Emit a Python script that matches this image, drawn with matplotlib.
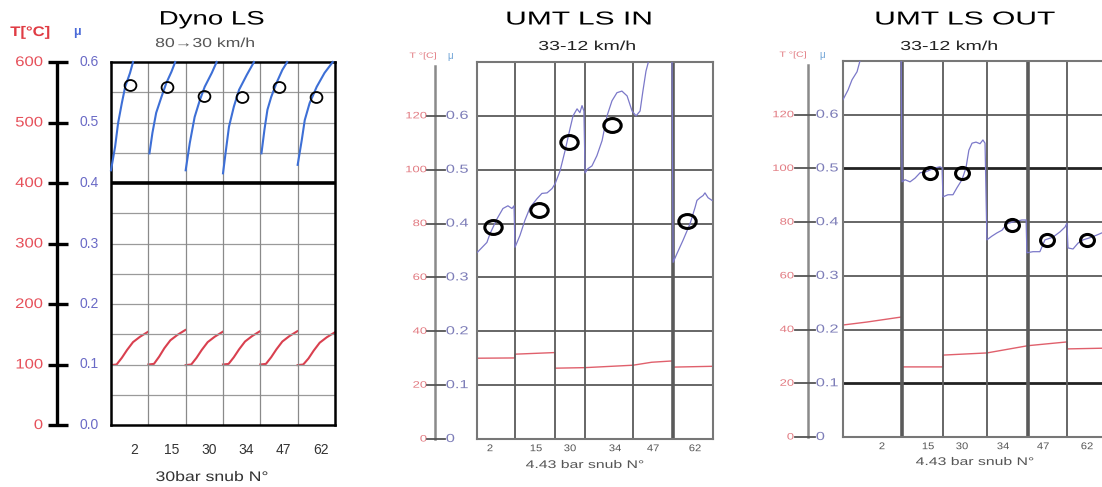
import numpy as np
import matplotlib
matplotlib.use("Agg")
import matplotlib.pyplot as plt
from matplotlib import transforms, patheffects
from matplotlib.path import Path
from matplotlib.transforms import Affine2D

plt.rcParams['font.family'] = ['Liberation Sans', 'DejaVu Sans']

# ---------------------------------------------------------------- data
snub_labels = ["2", "15", "30", "34", "47", "62"]

# Dyno LS, 80->30 km/h, 30 bar snubs: one column per snub
dyno_mu_pos = [  # position inside each snub column (0..1)
    [0.00, 0.11, 0.19, 0.29, 0.38, 0.51, 0.59],
    [0.03, 0.11, 0.21, 0.35, 0.48, 0.62, 0.72],
    [0.00, 0.11, 0.24, 0.38, 0.51, 0.70, 0.83],
    [0.00, 0.08, 0.16, 0.29, 0.43, 0.64, 0.83],
    [0.03, 0.11, 0.19, 0.29, 0.43, 0.59, 0.72],
    [0.00, 0.11, 0.19, 0.32, 0.51, 0.72, 0.94],
]
dyno_mu = [
    [0.421, 0.460, 0.499, 0.532, 0.559, 0.582, 0.600],
    [0.449, 0.483, 0.516, 0.542, 0.565, 0.584, 0.600],
    [0.421, 0.466, 0.509, 0.537, 0.559, 0.582, 0.600],
    [0.416, 0.455, 0.493, 0.526, 0.554, 0.579, 0.600],
    [0.449, 0.488, 0.521, 0.542, 0.565, 0.587, 0.600],
    [0.430, 0.471, 0.504, 0.532, 0.559, 0.582, 0.600],
]
dyno_T_pos = [0.00, 0.15, 0.29, 0.43, 0.59, 0.78, 0.99]
dyno_T = [
    [99, 100, 111, 124, 137, 146, 154],
    [100, 101, 113, 127, 140, 149, 157],
    [99, 100, 111, 124, 137, 146, 154],
    [100, 101, 112, 125, 138, 147, 155],
    [100, 101, 112, 125, 138, 147, 155],
    [99, 100, 110, 123, 136, 145, 153],
]
dyno_mu_marked = [0.562, 0.559, 0.544, 0.542, 0.559, 0.542]
dyno_T_ticks = [0, 100, 200, 300, 400, 500, 600]
dyno_mu_ticks = [0.0, 0.1, 0.2, 0.3, 0.4, 0.5, 0.6]

# UMT LS IN, 33-12 km/h, 4.43 bar snubs: test progress (%) on x
in_snub_ends = [16.1, 33.1, 45.8, 66.1, 83.1]
in_label_at = [5.5, 25.0, 39.4, 58.5, 74.6, 92.4]
in_t = [0.0, 4.2, 5.5, 8.5, 11.0, 13.1, 14.8, 15.7,
        16.1, 18.2, 20.3, 22.5, 25.4, 27.5, 29.7, 31.8, 33.1, 35.2, 37.3,
        39.4, 40.7, 42.4, 43.6, 44.5, 45.3,
        45.8, 47.0, 48.7, 50.8, 53.0, 55.1, 57.2, 59.3, 61.4, 63.6, 65.7,
        67.4, 69.1, 70.3, 71.6, 72.5, 74.2, 82.6,
        83.1, 84.7, 87.3, 90.3, 92.4, 93.2, 94.5, 95.8, 96.6, 97.9, 99.6]
in_mu = [0.346, 0.365, 0.381, 0.409, 0.428, 0.433, 0.428, 0.433,
         0.356, 0.378, 0.406, 0.430, 0.446, 0.456, 0.457, 0.465, 0.474, 0.498, 0.535,
         0.576, 0.600, 0.613, 0.606, 0.619, 0.609,
         0.494, 0.502, 0.507, 0.526, 0.554, 0.600, 0.628, 0.643, 0.646, 0.637, 0.609,
         0.600, 0.609, 0.646, 0.683, 0.698, 0.740, 0.740,
         0.328, 0.344, 0.369, 0.400, 0.430, 0.443, 0.448, 0.452, 0.457, 0.448, 0.443]
in_T_t = [0.0, 16.0, 16.1, 33.0, 33.1, 45.8, 66.1, 74.0, 83.0, 83.1, 100.0]
in_T = [30.0, 30.1, 31.5, 32.1, 26.3, 26.5, 27.4, 28.5, 29.0, 26.7, 27.0]
in_mark_t = [6.8, 26.3, 39.0, 57.2, 89.0]
in_mark_mu = [0.394, 0.426, 0.552, 0.583, 0.404]

# UMT LS OUT, 33-12 km/h, 4.43 bar snubs
out_snub_ends = [22.3, 37.7, 54.3, 69.8, 84.5]
out_label_at = [14.7, 32.1, 44.9, 60.4, 75.5, 92.1]
out_t = [0.0, 1.9, 3.4, 5.3, 6.4, 7.9, 21.9,
         22.3, 23.4, 25.3, 27.2, 29.1, 30.9, 32.8, 34.7, 36.6, 37.4,
         37.7, 39.6, 41.5, 43.0, 44.9, 46.4, 47.5, 48.7, 50.2, 51.7, 52.8, 53.6,
         54.3, 56.2, 58.1, 60.0, 61.9, 63.8, 65.7, 67.5, 69.1,
         69.4, 71.7, 74.3, 76.2, 79.2, 81.9, 83.8, 84.5,
         84.9, 86.8, 88.7, 90.6, 93.2, 95.8, 97.7]
out_mu = [0.628, 0.646, 0.665, 0.680, 0.700, 0.740, 0.740,
          0.475, 0.479, 0.475, 0.482, 0.492, 0.493, 0.497, 0.501, 0.503, 0.501,
          0.447, 0.451, 0.451, 0.464, 0.479, 0.501, 0.534, 0.547, 0.549, 0.546, 0.553, 0.547,
          0.367, 0.374, 0.380, 0.385, 0.397, 0.400, 0.402, 0.404, 0.404,
          0.343, 0.345, 0.345, 0.367, 0.372, 0.382, 0.391, 0.398,
          0.352, 0.350, 0.361, 0.367, 0.371, 0.376, 0.380]
out_T_t = [0.0, 9.0, 22.2, 22.3, 37.7, 37.8, 54.3, 69.8, 84.5, 84.6, 100.0]
out_T = [41.7, 42.8, 44.7, 26.1, 26.1, 30.5, 31.3, 34.0, 35.4, 32.8, 33.1]
out_mark_t = [32.8, 44.9, 63.8, 77.0, 92.1]
out_mark_mu = [0.492, 0.492, 0.395, 0.367, 0.367]

umt_T_ticks = [0, 20, 40, 60, 80, 100, 120]
umt_mu_ticks = [0.0, 0.1, 0.2, 0.3, 0.4, 0.5, 0.6]

# ---------------------------------------------------------------- figure
W, H = 1102, 487
fig = plt.figure(figsize=(W / 100, H / 100), dpi=100)
fig.patch.set_facecolor('white')


class Widen(patheffects.AbstractPathEffect):
    """Draw text glyphs stretched horizontally about a chosen anchor."""

    def __init__(self, sx, anchor='center'):
        super().__init__()
        self._sx = sx
        self._anchor = anchor

    def draw_path(self, renderer, gc, tpath, affine, rgbFace=None):
        ext = tpath.get_extents()
        cx = {'left': ext.x0, 'right': ext.x1}.get(self._anchor, 0.5 * (ext.x0 + ext.x1))
        stretch = Affine2D().translate(-cx, 0).scale(self._sx, 1).translate(cx, 0)
        renderer.draw_path(gc, tpath, stretch + affine, rgbFace)


def wide(sx, anchor='center'):
    return [Widen(sx, anchor)]


def box(l, t, r, b):
    return [l / W, (H - b) / H, (r - l) / W, (b - t) / H]


def fx(x):
    return x / W


def fy(y):
    return 1 - y / H


def ellipse(stretch):
    return Path.unit_circle().transformed(Affine2D().scale(stretch, 1.0))


RED1, BLUE1 = '#e6505a', '#6a6ac6'
RED2, BLUE2 = '#e27b82', '#7d7db8'

# ================================================================ Dyno LS
ax1 = fig.add_axes(box(111, 62, 335, 425))
ax1T = ax1.twinx()
ax1.set_xlim(0, 6)
ax1.set_ylim(0, 0.6)
ax1T.set_ylim(0, 600)
ax1T.set_axis_off()
ax1.set_zorder(2)
ax1.patch.set_visible(False)
ax1T.set_zorder(1)

for v in np.arange(0.05, 0.6, 0.05):
    if abs(v - 0.4) < 1e-6:
        ax1.axhline(v, color='black', lw=2.6, zorder=2)
    else:
        ax1.axhline(v, color='#9a9a9a', lw=0.9, zorder=1)
for b in range(1, 6):
    ax1.axvline(b, color='#8a8a8a', lw=0.9, zorder=1)
for s in ax1.spines.values():
    s.set_color('black')
    s.set_linewidth(1.8)
ax1.set_yticks([])
ax1.set_xticks(np.arange(6) + 0.62, snub_labels)
ax1.tick_params(axis='x', length=0, pad=13, labelsize=10, labelcolor='#333333')

for i in range(6):
    ax1.plot(i + np.array(dyno_mu_pos[i]), dyno_mu[i], color='#3d6fd6', lw=1.5,
             zorder=3, clip_on=False)
    ax1T.plot(i + np.array(dyno_T_pos), dyno_T[i], color='#d9404f', lw=1.5)
ax1.plot(np.arange(6) + 0.5, dyno_mu_marked, linestyle='none', marker=ellipse(1.08),
         markersize=8.5, mfc='none', mec='black', mew=1.3, zorder=4)

# stand-alone temperature / friction scale
tr_mu = transforms.blended_transform_factory(fig.transFigure, ax1.transData)
tr_T = transforms.blended_transform_factory(fig.transFigure, ax1T.transData)
ax1.plot([fx(57), fx(57)], [0, 0.6], transform=tr_mu, clip_on=False,
         color='black', lw=2.4, solid_capstyle='butt')
for T, m in zip(dyno_T_ticks, dyno_mu_ticks):
    ax1.plot([fx(48), fx(68)], [m, m], transform=tr_mu, clip_on=False,
             color='black', lw=2.4, solid_capstyle='butt')
    ax1T.text(fx(43), T, str(T), transform=tr_T, ha='right', va='center',
              fontsize=10, color=RED1, path_effects=wide(1.2, 'right'))
    ax1.text(fx(80), m, f"{m:.1f}", transform=tr_mu, ha='left', va='center',
             fontsize=10, color=BLUE1)

fig.text(fx(30), fy(32), "T[°C]", ha='center', va='center', fontsize=10,
         fontweight='bold', color='#e03c44', path_effects=wide(1.2))
fig.text(fx(77), fy(32), "μ", ha='center', va='center', fontsize=9,
         fontweight='bold', color='#4a6ad8')
fig.text(fx(212), fy(20), "Dyno LS", ha='center', va='center', fontsize=14,
         path_effects=wide(1.42))
fig.text(fx(205), fy(44), "80→30 km/h", ha='center', va='center', fontsize=9.4,
         color='#555555', path_effects=wide(1.35))
fig.text(fx(212), fy(477), "30bar snub N°", ha='center', va='center', fontsize=10,
         color='#333333', path_effects=wide(1.27))


# ================================================================ UMT panels
def umt_panel(rect, ends, thick_ends, label_at, t, mu, Tt, T, mt, mm,
              axis_x, red_right, tick_l, tick_r, blue_left, dark_rows, ring):
    ax = fig.add_axes(rect)
    axT = ax.twinx()
    ax.set_xlim(0, 100)
    ax.set_ylim(0, 0.7)
    axT.set_ylim(0, 140)
    axT.set_axis_off()
    ax.set_zorder(2)
    ax.patch.set_visible(False)
    axT.set_zorder(1)
    for v in umt_mu_ticks[1:]:
        dark = v in dark_rows
        ax.axhline(v, color='#222222' if dark else '#5a5a5a',
                   lw=2.0 if dark else 1.3, zorder=1)
    for e in ends:
        ax.axvline(e, color='#5a5a5a', lw=2.6 if e in thick_ends else 1.3, zorder=1)
    for s in ax.spines.values():
        s.set_color('#777777')
        s.set_linewidth(1.5)
    ax.set_yticks([])
    ax.set_xticks(label_at, snub_labels)
    ax.tick_params(axis='x', length=0, pad=3, labelsize=7, labelcolor='#555555')
    for lab in ax.get_xticklabels():
        lab.set_path_effects(wide(1.15))

    ax.plot(t, mu, color='#7b78c9', lw=0.9, zorder=3)
    axT.plot(Tt, T, color='#e0606c', lw=1.0)
    ax.plot(mt, mm, linestyle='none', marker=ellipse(ring[0]), markersize=ring[1],
            mfc='none', mec='black', mew=ring[2], zorder=4)

    trm = transforms.blended_transform_factory(fig.transFigure, ax.transData)
    trT = transforms.blended_transform_factory(fig.transFigure, axT.transData)
    ax.plot([fx(axis_x)] * 2, [0, 0.693], transform=trm, clip_on=False,
            color='#8a8a8a', lw=1.8)
    for Tv, m in zip(umt_T_ticks, umt_mu_ticks):
        ax.plot([fx(tick_l), fx(tick_r)], [m, m], transform=trm, clip_on=False,
                color='#555555', lw=1.3)
        axT.text(fx(red_right), Tv, str(Tv), transform=trT, ha='right', va='center',
                 fontsize=6.7, color=RED2, path_effects=wide(1.4, 'right'))
        ax.text(fx(blue_left), m, "0" if m == 0 else f"{m:.1f}", transform=trm,
                ha='left', va='center', fontsize=8.4, color=BLUE2,
                path_effects=wide(1.4, 'left'))
    return ax


umt_panel(box(477, 62, 713, 439), in_snub_ends, [83.1], in_label_at,
          in_t, in_mu, in_T_t, in_T, in_mark_t, in_mark_mu,
          axis_x=435, red_right=427, tick_l=427, tick_r=445, blue_left=446,
          dark_rows=[], ring=(1.25, 12.5, 2.2))
fig.text(fx(423), fy(56), "T °[C]", ha='center', va='center', fontsize=5.5, color=RED2,
         path_effects=wide(1.4))
fig.text(fx(450), fy(56), "μ", ha='center', va='center', fontsize=7, color='#6fa3d6')
fig.text(fx(579), fy(20), "UMT LS IN", ha='center', va='center', fontsize=13.5,
         path_effects=wide(1.6))
fig.text(fx(587), fy(47), "33-12 km/h", ha='center', va='center', fontsize=9.4,
         color='#222222', path_effects=wide(1.5))
fig.text(fx(585), fy(465), "4.43 bar snub N°", ha='center', va='center', fontsize=8,
         color='#555555', path_effects=wide(1.42))

umt_panel(box(843, 61, 1108, 437), out_snub_ends, [22.3, 69.8], out_label_at,
          out_t, out_mu, out_T_t, out_T, out_mark_t, out_mark_mu,
          axis_x=808, red_right=794, tick_l=795, tick_r=815, blue_left=816,
          dark_rows=[0.1, 0.5], ring=(1.15, 10, 2.2))
fig.text(fx(793), fy(55), "T °[C]", ha='center', va='center', fontsize=5.5, color=RED2,
         path_effects=wide(1.4))
fig.text(fx(822), fy(55), "μ", ha='center', va='center', fontsize=7, color='#6fa3d6')
fig.text(fx(965), fy(20), "UMT LS OUT", ha='center', va='center', fontsize=13.5,
         path_effects=wide(1.6))
fig.text(fx(949), fy(47), "33-12 km/h", ha='center', va='center', fontsize=9.4,
         color='#222222', path_effects=wide(1.5))
fig.text(fx(975), fy(462), "4.43 bar snub N°", ha='center', va='center', fontsize=8,
         color='#555555', path_effects=wide(1.42))

fig.savefig("out.png", dpi=100, facecolor='white')
